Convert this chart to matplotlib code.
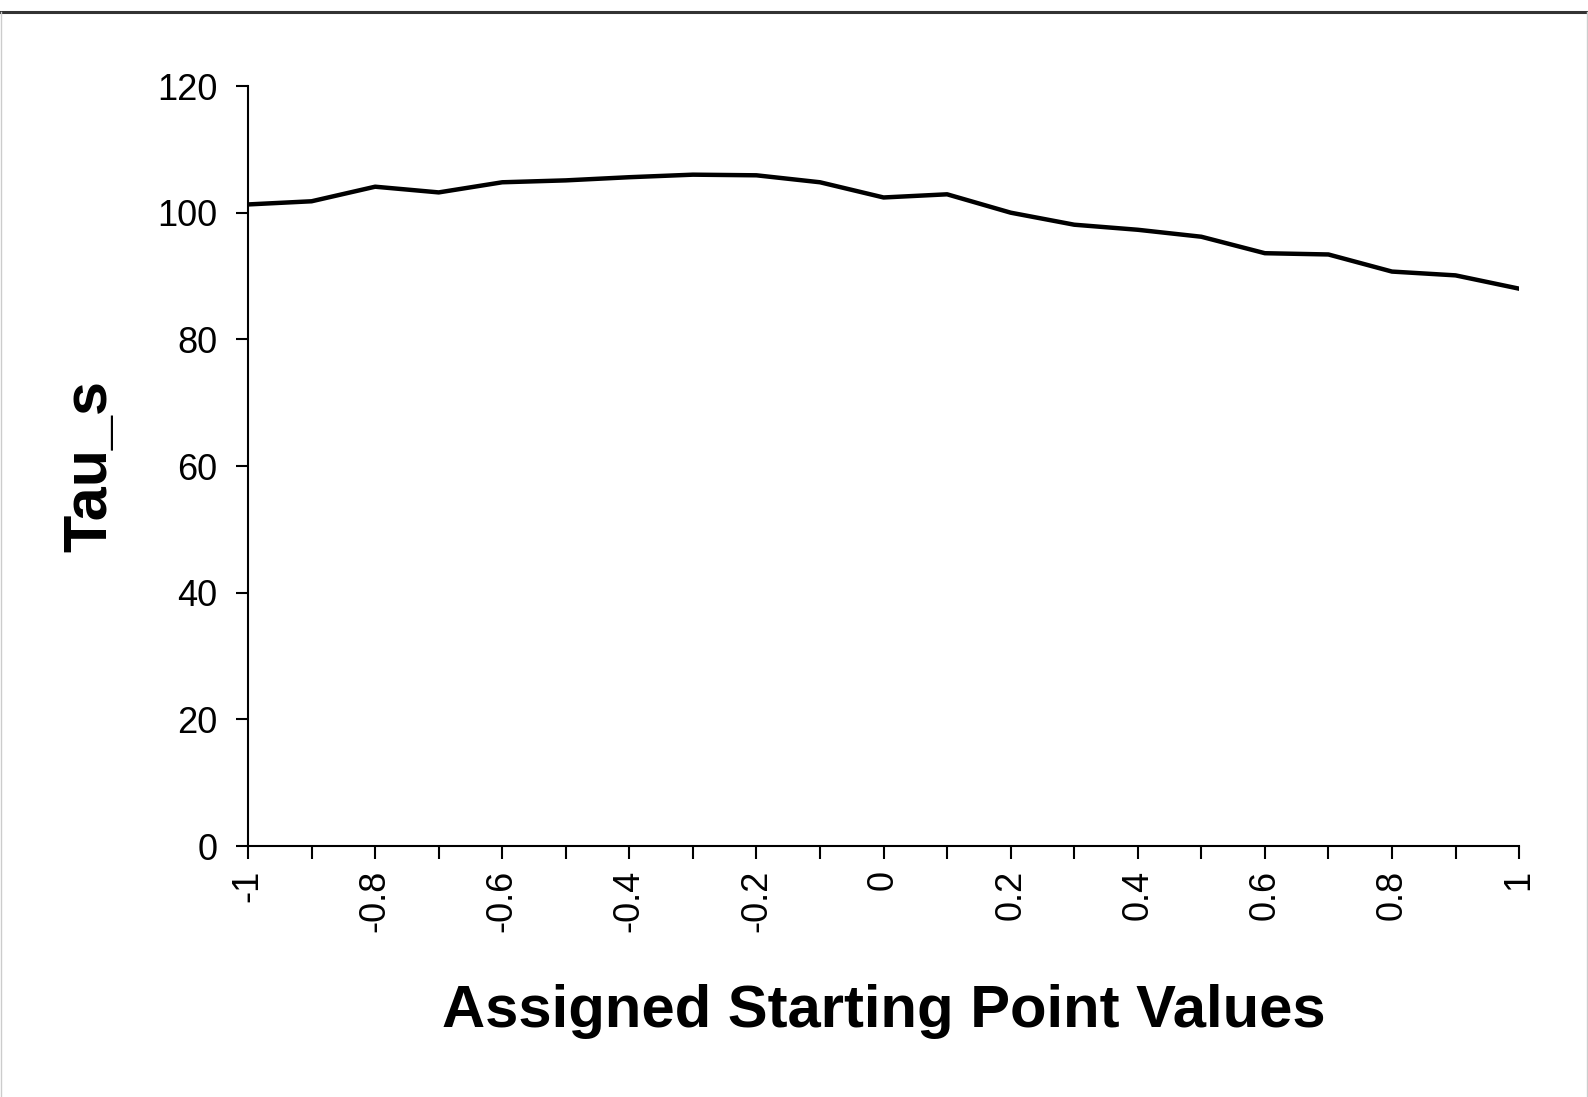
import matplotlib
matplotlib.use('Agg')
import matplotlib.pyplot as plt
from matplotlib.lines import Line2D

## data
x_vals = [-1.0, -0.9, -0.8, -0.7, -0.6, -0.5, -0.4, -0.3, -0.2, -0.1, 0.0,
          0.1, 0.2, 0.3, 0.4, 0.5, 0.6, 0.7, 0.8, 0.9, 1.0]
tau_s = [101.3, 101.8, 104.1, 103.2, 104.8, 105.1, 105.6, 106.0, 105.9, 104.8, 102.4,
         102.9, 100.0, 98.1, 97.3, 96.2, 93.6, 93.4, 90.7, 90.1, 88.0]
x_ticks = [-1.0, -0.9, -0.8, -0.7, -0.6, -0.5, -0.4, -0.3, -0.2, -0.1, 0.0,
           0.1, 0.2, 0.3, 0.4, 0.5, 0.6, 0.7, 0.8, 0.9, 1.0]
x_tick_labels = ['-1', '', '-0.8', '', '-0.6', '', '-0.4', '', '-0.2', '', '0',
                 '', '0.2', '', '0.4', '', '0.6', '', '0.8', '', '1']
y_ticks = [0, 20, 40, 60, 80, 100, 120]

plt.rcParams['font.family'] = ['Liberation Sans', 'DejaVu Sans']

fig = plt.figure(figsize=(15.88, 10.97), dpi=100)
ax = fig.add_axes([0.1562, 0.2288, 0.8004, 0.6928])

ax.plot(x_vals, tau_s, color='black', linewidth=3.2, solid_joinstyle='round')

ax.set_xlim(-1, 1)
ax.set_ylim(0, 120)
ax.set_xticks(x_ticks)
ax.set_xticklabels(x_tick_labels, rotation=90, fontsize=26)
ax.set_yticks(y_ticks)
ax.set_yticklabels([str(v) for v in y_ticks], fontsize=26)
ax.tick_params(direction='out', length=9, width=1.5)
ax.tick_params(axis='x', pad=8)
ax.tick_params(axis='y', pad=13)

for side in ['top', 'right']:
    ax.spines[side].set_visible(False)
for side in ['left', 'bottom']:
    ax.spines[side].set_linewidth(1.5)

ax.set_xlabel('Assigned Starting Point Values', fontsize=43, fontweight='bold')
ax.set_ylabel('Tau_s', fontsize=44, fontweight='bold')
ax.yaxis.set_label_coords(-0.101, 0.5)
ax.xaxis.set_label_coords(0.5, -0.182)

## frame around the chart area
fig.add_artist(Line2D([0, 1], [0.9895, 0.9895], transform=fig.transFigure, color='#333333', linewidth=2.2))
fig.add_artist(Line2D([0.0005, 0.0005], [0, 0.9895], transform=fig.transFigure, color='#cccccc', linewidth=1))
fig.add_artist(Line2D([0.9994, 0.9994], [0, 0.9895], transform=fig.transFigure, color='#cccccc', linewidth=1))

fig.savefig('out.png', dpi=100)
